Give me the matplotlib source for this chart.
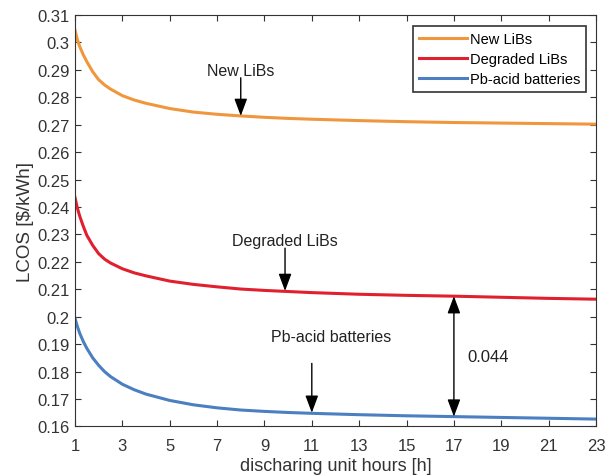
import matplotlib.pyplot as plt

plt.rcParams['font.family'] = ['Liberation Sans', 'DejaVu Sans']

# values
hours = [1, 1.1, 1.2, 1.35, 1.5, 1.75, 2, 2.25, 2.5, 3, 3.5, 4, 5, 6, 7, 8, 9, 10, 11, 13, 15, 17, 19, 21, 23]
new_libs = [0.3045, 0.3010, 0.2985, 0.2955, 0.2930, 0.2893, 0.2864, 0.2845, 0.2830, 0.2806, 0.2790,
            0.2778, 0.2759, 0.2746, 0.2738, 0.2732, 0.2727, 0.2723, 0.2720, 0.2715, 0.2711, 0.2708,
            0.2706, 0.2704, 0.2702]
degraded_libs = [0.2435, 0.2397, 0.2367, 0.2330, 0.2297, 0.2260, 0.2230, 0.2210, 0.2196, 0.2175, 0.2160,
                 0.2149, 0.2130, 0.2118, 0.2109, 0.2101, 0.2096, 0.2092, 0.2088, 0.2082, 0.2078, 0.2075,
                 0.2071, 0.2067, 0.2064]
pb_acid = [0.1995, 0.1965, 0.1940, 0.1910, 0.1885, 0.1850, 0.1823, 0.1800, 0.1782, 0.1754, 0.1734,
           0.1718, 0.1695, 0.1679, 0.1668, 0.1660, 0.1655, 0.1651, 0.1648, 0.1643, 0.1639, 0.1636,
           0.1633, 0.1630, 0.1627]

x_ticks = list(range(1, 24, 2))
y_ticks = [0.16, 0.17, 0.18, 0.19, 0.2, 0.21, 0.22, 0.23, 0.24, 0.25, 0.26, 0.27, 0.28, 0.29, 0.3, 0.31]

fig = plt.figure(figsize=(6.14, 4.77), dpi=100)
ax = fig.add_axes([0.1221, 0.1038, 0.8486, 0.8627])

ax.plot(hours, new_libs, color='#F0963C', lw=2.2, label='New LiBs')
ax.plot(hours, degraded_libs, color='#E0202E', lw=2.2, label='Degraded LiBs')
ax.plot(hours, pb_acid, color='#4B7FC2', lw=2.2, label='Pb-acid batteries')

ax.set_xlim(1, 23)
ax.set_ylim(0.16, 0.31)
ax.set_xticks(x_ticks)
ax.set_yticks(y_ticks)
ax.set_yticklabels([f'{v:g}' for v in y_ticks])
ax.tick_params(direction='in', top=True, right=True, labelsize=12, colors='#333333', length=4, pad=4)
ax.tick_params(axis='x', pad=8)
for s in ax.spines.values():
    s.set_color('#333333')
ax.set_xlabel('discharing unit hours [h]', fontsize=13, color='#333333', labelpad=3)
ax.set_ylabel('LCOS [$/kWh]', fontsize=13.5, color='#333333', labelpad=2)

arrow = dict(arrowstyle='-|>,head_length=0.75,head_width=0.28', mutation_scale=14,
             color='k', lw=1, shrinkA=0, shrinkB=0)

ax.text(8, 0.2897, 'New LiBs', ha='center', va='center', fontsize=11.5, color='#222222')
ax.annotate('', xy=(8, 0.2732), xytext=(8, 0.2871), arrowprops=arrow)

ax.text(9.87, 0.2277, 'Degraded LiBs', ha='center', va='center', fontsize=11.5, color='#222222')
ax.annotate('', xy=(9.87, 0.2094), xytext=(9.87, 0.2250), arrowprops=arrow)

ax.text(11.8, 0.1928, 'Pb-acid batteries', ha='center', va='center', fontsize=11.5, color='#222222')
ax.annotate('', xy=(11, 0.1650), xytext=(11, 0.1830), arrowprops=arrow)

ax.annotate('', xy=(17, 0.2075), xytext=(17, 0.1636),
            arrowprops=dict(arrowstyle='<|-|>,head_length=0.75,head_width=0.28', mutation_scale=14,
                            color='k', lw=1, shrinkA=0, shrinkB=0))
ax.text(17.55, 0.1855, '0.044', ha='left', va='center', fontsize=12, color='#222222')

leg = ax.legend(loc='upper right', fontsize=10.5, handlelength=3.3, handletextpad=0.2,
                borderpad=0.4, labelspacing=0.42, fancybox=False, framealpha=1,
                borderaxespad=0, bbox_to_anchor=(0.981, 0.973))
leg.get_frame().set_edgecolor('#333333')
leg.get_frame().set_linewidth(1.2)

fig.savefig('out.png', dpi=100)
